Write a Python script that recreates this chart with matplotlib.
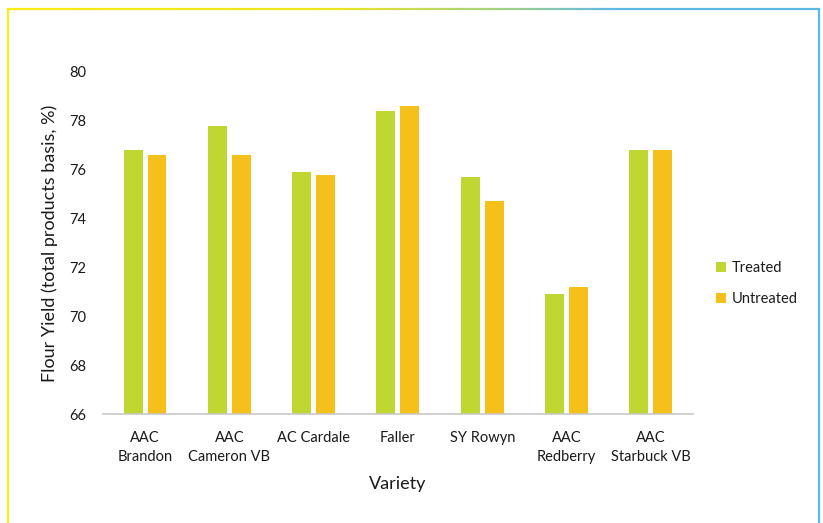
import numpy as np
import matplotlib
matplotlib.use("Agg")
import matplotlib.pyplot as plt
from matplotlib.collections import LineCollection
from matplotlib.colors import LinearSegmentedColormap

# =========================
# Data
# =========================
varieties = ["AAC\nBrandon", "AAC\nCameron VB", "AC Cardale", "Faller",
             "SY Rowyn", "AAC\nRedberry", "AAC\nStarbuck VB"]
treated = [76.8, 77.8, 75.9, 78.4, 75.7, 70.9, 76.8]
untreated = [76.6, 76.6, 75.8, 78.6, 74.7, 71.2, 76.8]
series_names = ["Treated", "Untreated"]
yticks = [66, 68, 70, 72, 74, 76, 78, 80]

GREEN = "#c0d631"
GOLD = "#f6c01a"
TEXT = "#1a1a1a"

plt.rcParams["font.family"] = ["Lato", "DejaVu Sans"]

fig = plt.figure(figsize=(8.23, 5.23), dpi=100)
ax = fig.add_axes([0.125, 0.2084, 0.717, 0.654])

x = np.arange(len(varieties))
w = 0.225
off = 0.142
ax.bar(x - off, treated, width=w, color=GREEN, label=series_names[0])
ax.bar(x + off, untreated, width=w, color=GOLD, label=series_names[1])

ax.set_xlim(-0.5, len(varieties) - 0.5)
ax.set_ylim(yticks[0], yticks[-1])
ax.set_yticks(yticks)
ax.set_xticks(x)
ax.set_xticklabels(varieties, fontsize=10.5, color=TEXT, linespacing=1.45)
ax.tick_params(axis="y", length=0, pad=12, labelsize=10.5, labelcolor=TEXT)
ax.tick_params(axis="x", length=0, pad=12)

for s in ["top", "right", "left"]:
    ax.spines[s].set_visible(False)
ax.spines["bottom"].set_color("#c8c8c8")
ax.spines["bottom"].set_linewidth(1.2)

ax.set_ylabel("Flour Yield (total products basis, %)", fontsize=13, color=TEXT, labelpad=8)
ax.set_xlabel("Variety", fontsize=13, color=TEXT, labelpad=9)

leg = fig.legend(loc="center left", bbox_to_anchor=(0.863, 0.458), frameon=False,
                 fontsize=10.5, handlelength=0.7, handleheight=0.7, handletextpad=0.4,
                 labelspacing=1.2, borderaxespad=0)
for t in leg.get_texts():
    t.set_color(TEXT)

# frame around the figure: yellow left, gradient top, blue right
cmap = LinearSegmentedColormap.from_list(
    "edge", [(0, "#f8ec14"), (0.4, "#ede41e"), (0.62, "#9fd08a"), (0.75, "#5cb9e6"), (1, "#5cb9e6")])
xs = np.linspace(0.0097, 0.995, 200)
yt = 1 - 9 / 523
segs = [[(xs[i], yt), (xs[i + 1], yt)] for i in range(len(xs) - 1)]
lc = LineCollection(segs, colors=cmap(np.linspace(0, 1, len(segs))), linewidths=1.6,
                    transform=fig.transFigure)
fig.add_artist(lc)
fig.add_artist(plt.Line2D([0.0097, 0.0097], [0, yt], color="#f8ec14", lw=1.6,
                          transform=fig.transFigure))
fig.add_artist(plt.Line2D([0.995, 0.995], [0, yt], color="#5cb9e6", lw=1.6,
                          transform=fig.transFigure))

fig.savefig("out.png", dpi=100, facecolor="white")
